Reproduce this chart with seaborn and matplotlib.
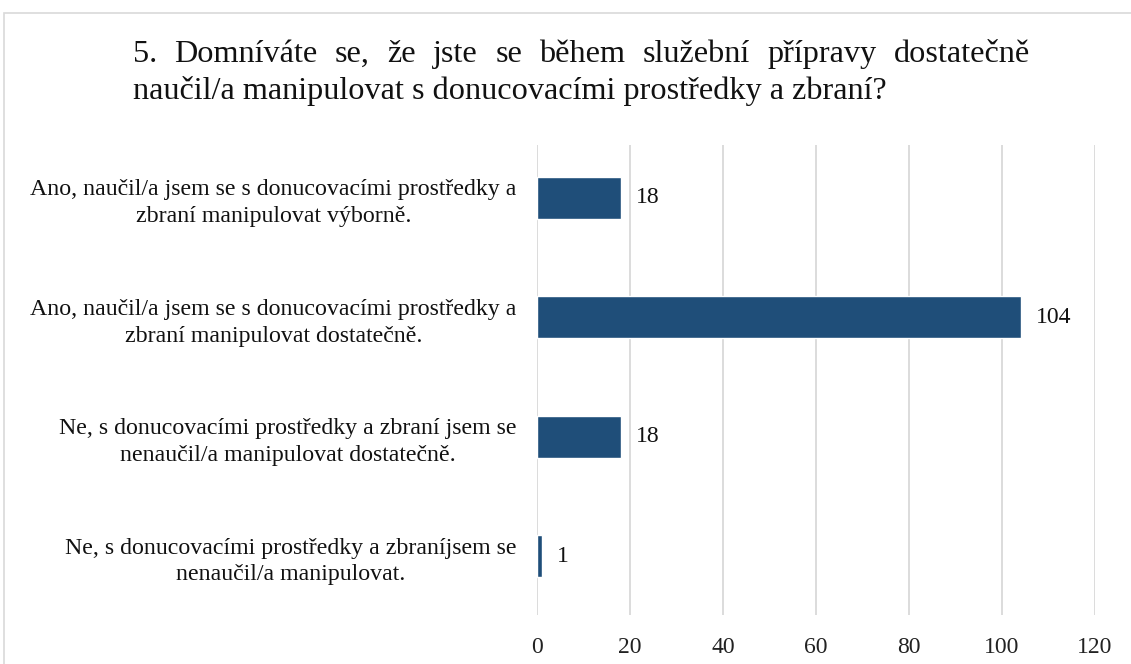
import matplotlib
matplotlib.use("Agg")
import matplotlib.pyplot as plt
import seaborn as sns
import pandas as pd
from matplotlib.patches import Rectangle

categories = [
    "Ano, naučil/a jsem se s donucovacími prostředky a\nzbraní manipulovat výborně.",
    "Ano, naučil/a jsem se s donucovacími prostředky a\nzbraní manipulovat dostatečně.",
    "Ne, s donucovacími prostředky a zbraní jsem se\nnenaučil/a manipulovat dostatečně.",
    "Ne, s donucovacími prostředky a zbraníjsem se\nnenaučil/a manipulovat.",
]
values = [18, 104, 18, 1]
x_ticks = [0, 20, 40, 60, 80, 100, 120]
title_line1 = "5. Domníváte se, že jste se během služební přípravy dostatečně"
title_line2 = "naučil/a manipulovat s donucovacími prostředky a zbraní?"

sns.set_theme(style="white")
plt.rcParams["font.family"] = ["Liberation Serif", "DejaVu Serif"]

W, H = 1131, 664
fig = plt.figure(figsize=(W / 100, H / 100), dpi=100)
fig.patch.set_facecolor("white")

# chart border
fig.patches.append(Rectangle((4 / W, -0.02), 1.05, 1 - 13 / H + 0.02,
                             transform=fig.transFigure, fill=False,
                             edgecolor="#D9D9D9", linewidth=1.2))

left, right = 537 / W, 1095 / W
top, bottom = 1 - 145 / H, 1 - 615 / H
ax = fig.add_axes([left, bottom, right - left, top - bottom])

df = pd.DataFrame({"cat": categories, "val": values})
sns.barplot(data=df, x="val", y="cat", orient="h", color="#1F4E79",
            width=0.35, saturation=1, ax=ax)

ax.set_xlim(0, 120)
ax.set_ylim(3.494, -0.444)
ax.set_xticks(x_ticks)
ax.set_xticklabels([str(t) for t in x_ticks], fontsize=17, color="#222222")
ax.set_xlabel("")
ax.set_ylabel("")
ax.tick_params(axis="x", length=0, pad=15.5)
ax.tick_params(axis="y", length=0, pad=14.5)
for lab in ax.get_yticklabels():
    lab.set_fontsize(17.2)
    lab.set_multialignment("center")
    lab.set_linespacing(1.36)
    lab.set_color("#111111")
for s in ax.spines.values():
    s.set_visible(False)
ax.grid(axis="x", color="#D9D9D9", linewidth=1.3)
ax.grid(axis="y", visible=False)
ax.set_axisbelow(True)

for cont in ax.containers:
    ax.bar_label(cont, labels=[str(v) for v in values], padding=11,
                 fontsize=17, color="#111111")

# title, first line justified
fs_title = 23.2
x0, x1 = 133 / W, 1030 / W
y1, y2 = 1 - 62 / H, 1 - 99 / H
words = title_line1.split(" ")
fig.canvas.draw()
r = fig.canvas.get_renderer()
widths = []
for w in words:
    t = fig.text(0, 0, w, fontsize=fs_title)
    bb = t.get_window_extent(renderer=r)
    widths.append(bb.width / W)
    t.remove()
gap = ((x1 - x0) - sum(widths)) / (len(words) - 1)
xc = x0
for w, wd in zip(words, widths):
    fig.text(xc, y1, w, fontsize=fs_title, va="baseline", ha="left", color="#111111")
    xc += wd + gap
fig.text(x0, y2, title_line2, fontsize=fs_title, va="baseline", ha="left", color="#111111")

fig.savefig("out.png", dpi=100, facecolor="white")
